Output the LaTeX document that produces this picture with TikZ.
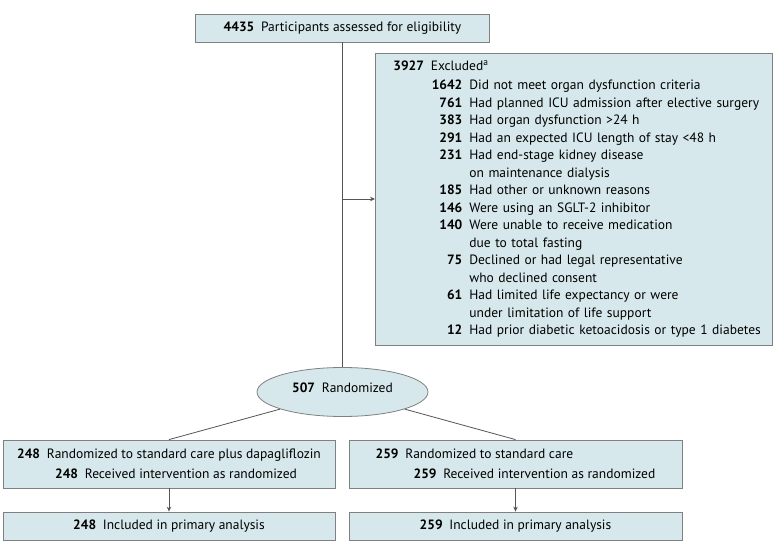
\documentclass[tikz,border=0pt]{standalone}
\usepackage{fontspec}
\setmainfont{PT Sans}
\usepackage{array}
\usetikzlibrary{shapes.geometric,arrows.meta}
\definecolor{boxfill}{RGB}{214,232,235}
\definecolor{boxline}{RGB}{128,128,128}
\definecolor{arrowline}{RGB}{85,85,85}
\newcolumntype{R}[1]{>{\raggedleft\arraybackslash}p{#1}}
\begin{document}
\begin{tikzpicture}[x=1pt,y=-1pt,font=\fontsize{13.5pt}{17.5pt}\selectfont,
  caixa/.style={draw=boxline,fill=boxfill,line width=0.8pt,inner sep=0pt},
  linha/.style={draw=arrowline,line width=0.8pt},
  seta/.style={linha,-{Stealth[length=5pt,width=4.5pt]}}]
  \useasboundingbox (0,0) rectangle (780,553);
  %caixa de cima
  \node[caixa,minimum width=294pt,minimum height=28pt] (elig) at (342.5,28) {\textbf{4435}\enspace Participants assessed for eligibility};
  %excluidos
  \node[caixa,anchor=north west,minimum height=292pt,text width=361pt,inner xsep=18pt,align=left] (excl) at (375,53) {%
    \begin{tabular}{@{}R{69pt}@{\hspace{7pt}}l@{}}
      \multicolumn{2}{@{}l@{}}{\textbf{3927}\enspace Excluded\textsuperscript{a}}\\[1.5pt]
      \textbf{1642} & Did not meet organ dysfunction criteria\\
      \textbf{761} & Had planned ICU admission after elective surgery\\
      \textbf{383} & Had organ dysfunction >24 h\\
      \textbf{291} & Had an expected ICU length of stay <48 h\\
      \textbf{231} & Had end-stage kidney disease\\
       & on maintenance dialysis\\
      \textbf{185} & Had other or unknown reasons\\
      \textbf{146} & Were using an SGLT-2 inhibitor\\
      \textbf{140} & Were unable to receive medication\\
       & due to total fasting\\
      \textbf{75} & Declined or had legal representative\\
       & who declined consent\\
      \textbf{61} & Had limited life expectancy or were\\
       & under limitation of life support\\
      \textbf{12} & Had prior diabetic ketoacidosis or type 1 diabetes
    \end{tabular}};
  %randomizados
  \node[caixa,ellipse,minimum width=171pt,minimum height=49pt,text height=9.5pt,text depth=9pt] (rand) at (342.5,392) {\textbf{507}\enspace Randomized};
  %bracos
  \node[caixa,minimum width=332pt,minimum height=48pt,align=left] (armdapa) at (169,464) {\textbf{248}\enspace Randomized to standard care plus dapagliflozin\\[2.5pt]\hspace*{38pt}\textbf{248}\enspace Received intervention as randomized};
  \node[caixa,minimum width=333pt,minimum height=48pt,align=left] (armstd) at (515.5,464) {\textbf{259}\enspace Randomized to standard care\\[2.5pt]\hspace*{38pt}\textbf{259}\enspace Received intervention as randomized};
  %analise
  \node[caixa,minimum width=332pt,minimum height=28pt] (incdapa) at (169,526) {\textbf{248}\enspace Included in primary analysis};
  \node[caixa,minimum width=333pt,minimum height=28pt] (incstd) at (515.5,526) {\textbf{259}\enspace Included in primary analysis};
  %ligacoes
  \coordinate (desvio) at (342.5,199);
  \draw[linha] (elig) -- (rand);
  \draw[seta] (desvio) -- (desvio -| excl.west);
  \draw[linha] (rand) -- (armdapa.north);
  \draw[linha] (rand) -- (armstd.north);
  \draw[seta] (armdapa) -- (incdapa);
  \draw[seta] (armstd) -- (incstd);
\end{tikzpicture}
\end{document}
